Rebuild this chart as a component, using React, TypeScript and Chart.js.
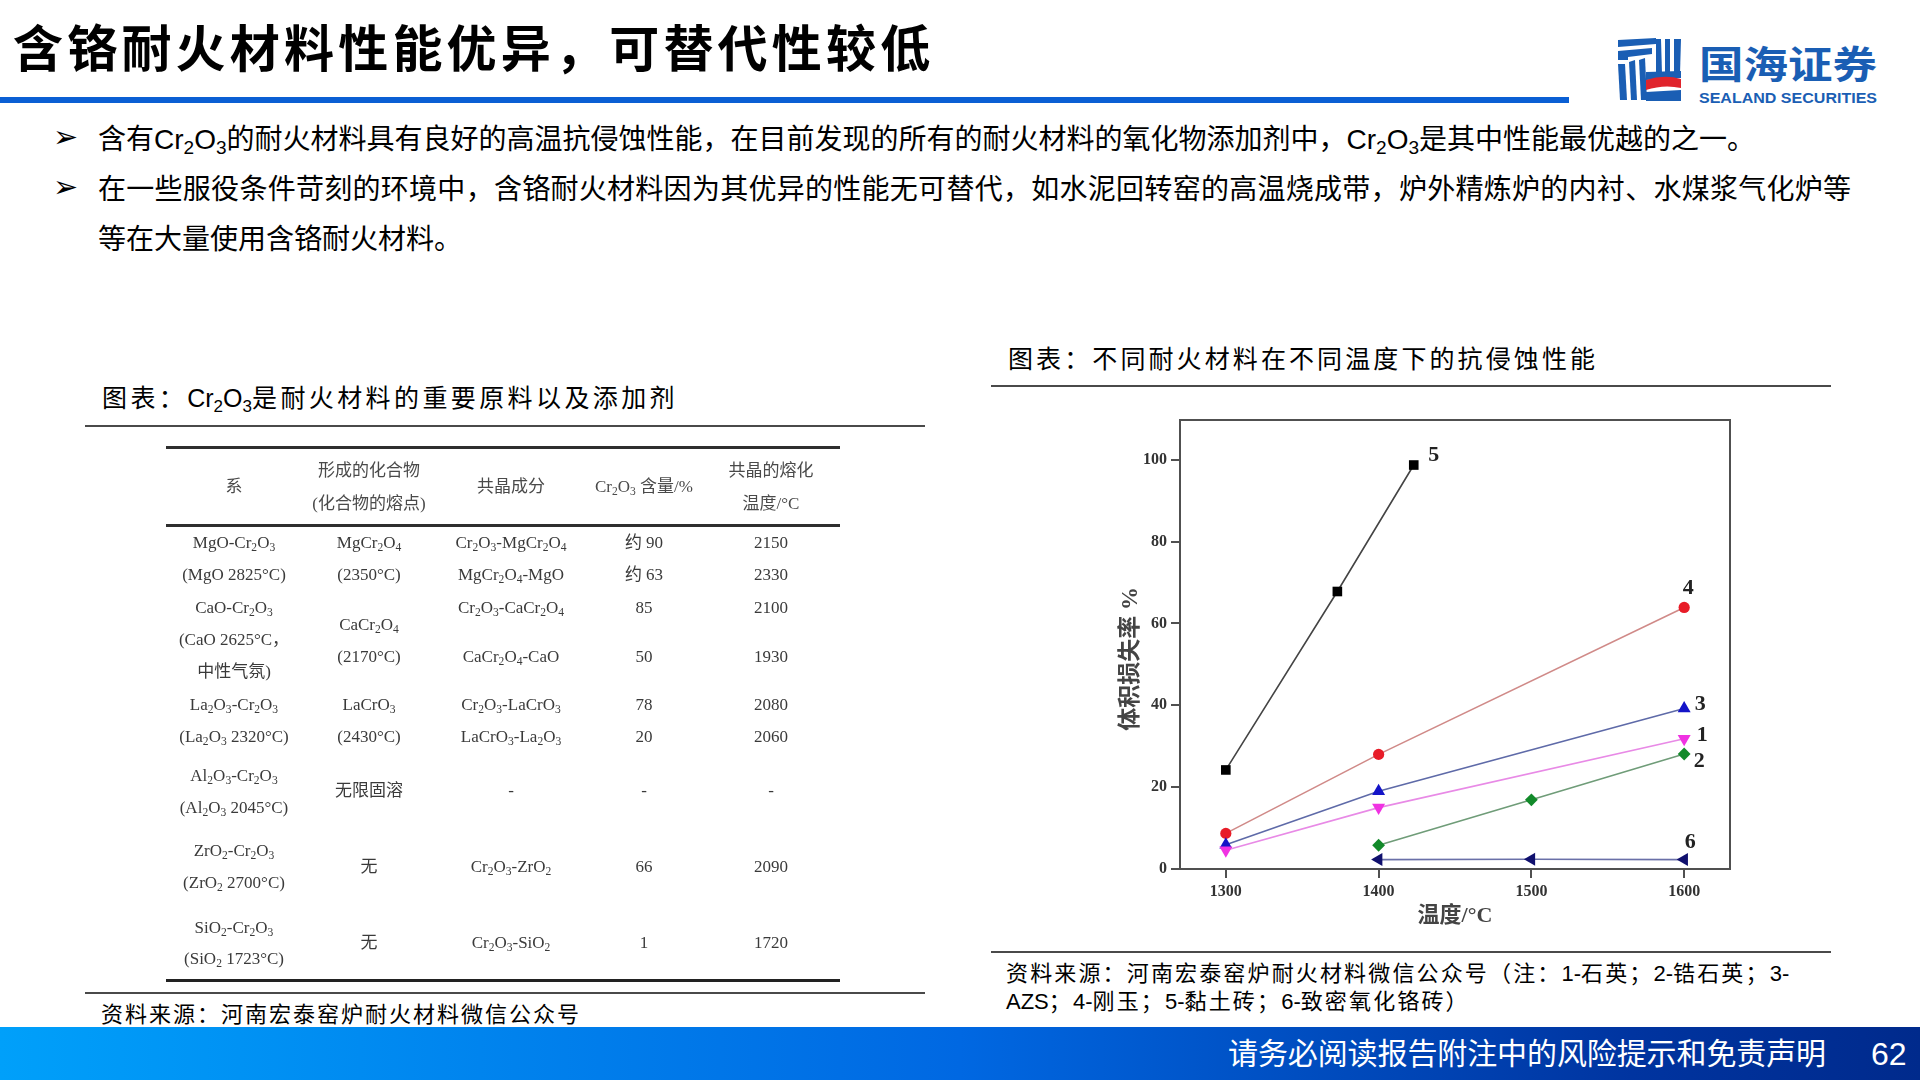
import { useEffect, useRef } from 'react';
import { Chart, registerables } from 'chart.js';

Chart.register(...registerables);

// chart data
const series5X = [1300, 1373, 1423];
const series5Y = [24.2, 67.8, 98.7];
const series4X = [1300, 1400, 1600];
const series4Y = [8.7, 28, 63.9];
const series3X = [1300, 1400, 1600];
const series3Y = [5.9, 19, 39.2];
const series1X = [1300, 1400, 1600];
const series1Y = [4.6, 15, 31.8];
const series2X = [1400, 1500, 1600];
const series2Y = [5.8, 16.9, 28.1];
const series6X = [1400, 1500, 1600];
const series6Y = [2.3, 2.4, 2.3];

const xTicks = [1300, 1400, 1500, 1600];
const yTicks = [0, 20, 40, 60, 80, 100];
const xTitle = '温度/°C';
const yTitle = '体积损失率 %';

// table text, _n is a subscript
const tableHeader = [
  ['系'],
  ['形成的化合物', '(化合物的熔点)'],
  ['共晶成分'],
  ['Cr_2O_3 含量/%'],
  ['共晶的熔化', '温度/°C'],
];
const systemCol = [
  'MgO-Cr_2O_3', '(MgO 2825°C)', 'CaO-Cr_2O_3', '(CaO 2625°C，', '中性气氛)',
  'La_2O_3-Cr_2O_3', '(La_2O_3 2320°C)', 'Al_2O_3-Cr_2O_3', '(Al_2O_3 2045°C)',
  'ZrO_2-Cr_2O_3', '(ZrO_2 2700°C)', 'SiO_2-Cr_2O_3', '(SiO_2 1723°C)',
];
const compoundCol = [
  'MgCr_2O_4', '(2350°C)', 'CaCr_2O_4', '(2170°C)', 'LaCrO_3', '(2430°C)', '无限固溶', '无', '无',
];
const eutecticCol = [
  'Cr_2O_3-MgCr_2O_4', 'MgCr_2O_4-MgO', 'Cr_2O_3-CaCr_2O_4', 'CaCr_2O_4-CaO',
  'Cr_2O_3-LaCrO_3', 'LaCrO_3-La_2O_3', '-', 'Cr_2O_3-ZrO_2', 'Cr_2O_3-SiO_2',
];
const contentCol = ['约 90', '约 63', '85', '50', '78', '20', '-', '66', '1'];
const meltCol = ['2150', '2330', '2100', '1930', '2080', '2060', '-', '2090', '1720'];

// line centres of the table columns on the page
const systemY = [542, 574, 607, 639, 671, 704, 736, 775, 807, 850, 882, 927, 958];
const compoundY = [542, 574, 624, 656, 704, 736, 790, 866, 942];
const otherY = [542, 574, 607, 656, 704, 736, 790, 866, 942];
const colX = [234, 369, 511, 644, 771];

const SANS = '"Liberation Sans","Noto Sans CJK SC",sans-serif';
const SERIF = '"Liberation Serif","Noto Sans CJK SC",serif';

function chem(text: string) {
  return text.split(/_(\d)/).map((part, i) =>
    i % 2 === 1 ? (
      <span key={i} style={{ fontSize: '68%', position: 'relative', top: '0.28em' }}>
        {part}
      </span>
    ) : (
      <span key={i}>{part}</span>
    ),
  );
}

// the letter spacing of the headings only applies to the Chinese, not to latin runs
function tight(text: string) {
  return text.split(/([A-Za-z0-9_-]+)/).map((part, i) =>
    i % 2 === 1 ? (
      <span key={i} style={{ letterSpacing: 0 }}>
        {chem(part)}
      </span>
    ) : (
      <span key={i}>{part}</span>
    ),
  );
}

function Txt(props: {
  x: number;
  y: number;
  size: number;
  children: any;
  center?: boolean;
  color?: string;
  weight?: number;
  spacing?: number;
  font?: string;
}) {
  const { x, y, size, children, center, color = '#000', weight = 400, spacing = 0, font = SANS } = props;
  return (
    <div
      style={{
        position: 'absolute',
        left: x,
        top: y,
        transform: center ? 'translate(-50%,-50%)' : 'translateY(-50%)',
        fontSize: size,
        fontFamily: font,
        fontWeight: weight,
        color,
        letterSpacing: spacing,
        lineHeight: 1,
        whiteSpace: 'nowrap',
      }}
    >
      {children}
    </div>
  );
}

function Rule(props: { x: number; y: number; w: number; h?: number; color?: string }) {
  const { x, y, w, h = 2, color = '#4a4a4a' } = props;
  return <div style={{ position: 'absolute', left: x, top: y, width: w, height: h, background: color }} />;
}

function Logo() {
  const blue = '#1a5eb4';
  return (
    <svg style={{ position: 'absolute', left: 1610, top: 30 }} width={280} height={85}>
      <g fill={blue}>
        <path d="M8 10 L46 8 L46 14 L8 17 Z" />
        <path d="M8 21 L42 18 L42 24 L18 27 L18 30 L8 30 Z" />
        <path d="M8 34 L15 34 L17 70 L10 70 Z" />
        <path d="M19 32 L25 30 L27 70 L21 70 Z" />
        <path d="M29 30 L35 28 L37 70 L31 70 Z" />
        <path d="M46 9 L51 9 L52 44 L46 44 Z" />
        <path d="M55 9 L60 9 L60 44 L55 44 Z" />
        <path d="M64 9 L71 9 L70 44 L64 44 Z" />
        <path d="M36 42 L71 41 L71 48 L36 50 Z" />
        <path d="M36 62 L71 60 L71 71 L36 71 Z" />
      </g>
      <path d="M36 50 Q54 44 71 49 L71 58 Q54 54 36 60 Z" fill="#e0242c" />
      <text x={89} y={48} fontSize={38} fontWeight={700} fill={blue} textLength={178} lengthAdjust="spacingAndGlyphs" fontFamily='"Noto Sans CJK SC"'>
        国海证券
      </text>
      <text x={89} y={73} fontSize={15} fontWeight={700} fill={blue} textLength={178} lengthAdjust="spacingAndGlyphs" fontFamily='"Liberation Sans"'>
        SEALAND SECURITIES
      </text>
    </svg>
  );
}

function LossChart() {
  const canvasRef = useRef<HTMLCanvasElement>(null);

  useEffect(() => {
    if (!canvasRef.current) return;
    const line = (
      name: string,
      xs: number[],
      ys: number[],
      lineColor: string,
      color: string,
      pointStyle: string,
      radius: number,
      rotation = 0,
    ) => ({
      label: name,
      data: xs.map((x, i) => ({ x, y: ys[i] })),
      borderColor: lineColor,
      borderWidth: 1.6,
      backgroundColor: color,
      pointBackgroundColor: color,
      pointBorderColor: color,
      pointBorderWidth: 0,
      pointStyle,
      pointRadius: radius,
      pointRotation: rotation,
      tension: 0,
    });

    // number next to the last point of every line, offset in pixels
    const endLabels: Record<string, [number, number]> = {
      '5': [20, -10],
      '4': [4, -19],
      '3': [16, -4],
      '1': [18, -4],
      '2': [15, 7],
      '6': [6, -17],
    };
    const framePlugin = {
      id: 'frame',
      afterDraw(chart: any) {
        const { ctx, chartArea: a } = chart;
        ctx.save();
        ctx.strokeStyle = '#505050';
        ctx.lineWidth = 2;
        ctx.strokeRect(a.left, a.top, a.right - a.left, a.bottom - a.top);
        ctx.font = `bold 22px ${SERIF}`;
        ctx.fillStyle = '#222';
        ctx.textAlign = 'center';
        ctx.textBaseline = 'middle';
        chart.data.datasets.forEach((ds: any, i: number) => {
          const pts = chart.getDatasetMeta(i).data;
          const last = pts[pts.length - 1];
          const off = endLabels[ds.label];
          ctx.fillText(ds.label, last.x + off[0], last.y + off[1]);
        });
        ctx.restore();
      },
    };

    const tickFont = { family: SERIF, size: 16, weight: 'bold' as const };
    const chart = new Chart(canvasRef.current, {
      type: 'line',
      data: {
        datasets: [
          line('6', series6X, series6Y, '#6a70a8', '#10106e', 'triangle', 7.5, -90),
          line('2', series2X, series2Y, '#6f9c78', '#128a2a', 'rectRot', 6.4),
          line('1', series1X, series1Y, '#e88ae6', '#f032e2', 'triangle', 7.5, 180),
          line('3', series3X, series3Y, '#5e6aa8', '#1414c8', 'triangle', 7.5),
          line('4', series4X, series4Y, '#d08a88', '#e81c28', 'circle', 5.6),
          line('5', series5X, series5Y, '#444444', '#000000', 'rect', 6.8),
        ] as any,
      },
      options: {
        animation: false,
        responsive: false,
        layout: { padding: { top: 19, right: 30, left: 0, bottom: 0 } },
        plugins: { legend: { display: false }, tooltip: { enabled: false } },
        scales: {
          x: {
            type: 'linear',
            min: 1270,
            max: 1630,
            afterBuildTicks: (s: any) => {
              s.ticks = xTicks.map((value) => ({ value }));
            },
            afterFit: (s: any) => {
              s.height = 72;
            },
            grid: { drawOnChartArea: false, color: '#505050', tickLength: 9, lineWidth: 2 },
            border: { color: '#505050', width: 2 },
            ticks: { font: tickFont, color: '#333', padding: 4, maxRotation: 0, callback: (v: any) => String(v) },
            title: {
              display: true,
              text: xTitle,
              color: '#444',
              font: { family: SERIF, size: 22, weight: 'bold' },
              padding: { top: 0, bottom: 11 },
            },
          },
          y: {
            min: 0,
            max: 109.7,
            afterBuildTicks: (s: any) => {
              s.ticks = yTicks.map((value) => ({ value }));
            },
            afterFit: (s: any) => {
              s.width = 80;
            },
            grid: { drawOnChartArea: false, color: '#505050', tickLength: 9, lineWidth: 2 },
            border: { color: '#505050', width: 2 },
            ticks: { font: tickFont, color: '#333', padding: 4 },
            title: {
              display: true,
              // the trailing spaces push the title below the middle of the axis
              text: yTitle + '\u00A0'.repeat(5),
              color: '#444',
              font: { family: SERIF, size: 23, weight: 'bold' },
              padding: { top: 17, bottom: 0 },
            },
          },
        },
      } as any,
      plugins: [framePlugin],
    });

    return () => chart.destroy();
  }, []);

  return (
    <canvas
      ref={canvasRef}
      width={660}
      height={540}
      style={{ position: 'absolute', left: 1100, top: 401, width: 660, height: 540, filter: 'blur(0.4px)' }}
    />
  );
}

function PropertyTable() {
  const cell = (text: string, x: number, y: number, key: string, color = '#3a3a3a') => (
    <Txt key={key} x={x} y={y} size={17} center color={color} font={SERIF}>
      {chem(text)}
    </Txt>
  );
  const columns: [string[], number[]][] = [
    [systemCol, systemY],
    [compoundCol, compoundY],
    [eutecticCol, otherY],
    [contentCol, otherY],
    [meltCol, otherY],
  ];
  return (
    <div style={{ position: 'absolute', left: 0, top: 0, width: 1920, height: 1080, filter: 'blur(0.35px)' }}>
      <Rule x={166} y={446} w={674} h={3} color="#2e2e2e" />
      <Rule x={166} y={524} w={674} h={3} color="#2e2e2e" />
      <Rule x={166} y={979} w={674} h={3} color="#222" />
      {tableHeader.map((lines, c) =>
        lines.map((t, i) =>
          cell(t, colX[c], lines.length === 1 ? 486 : i === 0 ? 470 : 503, `h${c}-${i}`, '#4a4a4a'),
        ),
      )}
      {columns.map(([texts, ys], c) => texts.map((t, i) => cell(t, colX[c], ys[i], `c${c}-${i}`)))}
    </div>
  );
}

export default function App() {
  const bullet = { font: '"DejaVu Sans"', size: 30 };
  return (
    <div
      style={{
        position: 'absolute',
        left: 0,
        top: 0,
        width: 1920,
        height: 1080,
        background: '#fff',
        overflow: 'hidden',
      }}
    >
      <Txt x={13} y={50} size={50} weight={700} spacing={4.2} font={'"Liberation Sans","Noto Sans CJK SC"'}>
        含铬耐火材料性能优异，可替代性较低
      </Txt>
      <Rule x={0} y={97} w={1569} h={6} color="#0a5fd4" />
      <Logo />

      <Txt x={53} y={137} {...bullet}>➢</Txt>
      <Txt x={98} y={140} size={28}>
        {chem('含有Cr_2O_3的耐火材料具有良好的高温抗侵蚀性能，在目前发现的所有的耐火材料的氧化物添加剂中，Cr_2O_3是其中性能最优越的之一。')}
      </Txt>
      <Txt x={53} y={187} {...bullet}>➢</Txt>
      <Txt x={98} y={190} size={28} spacing={0.28}>
        在一些服役条件苛刻的环境中，含铬耐火材料因为其优异的性能无可替代，如水泥回转窑的高温烧成带，炉外精炼炉的内衬、水煤浆气化炉等
      </Txt>
      <Txt x={98} y={240} size={28}>
        等在大量使用含铬耐火材料。
      </Txt>

      <Txt x={102} y={398} size={25} spacing={3.4}>
        {tight('图表：Cr_2O_3是耐火材料的重要原料以及添加剂')}
      </Txt>
      <Rule x={85} y={425} w={840} />
      <PropertyTable />
      <Rule x={85} y={992} w={840} />
      <Txt x={101} y={1015} size={22} spacing={2}>
        资料来源：河南宏泰窑炉耐火材料微信公众号
      </Txt>

      <Txt x={1008} y={359} size={25} spacing={3.1}>
        图表：不同耐火材料在不同温度下的抗侵蚀性能
      </Txt>
      <Rule x={991} y={385} w={840} />
      <LossChart />
      <Rule x={991} y={951} w={840} />
      <Txt x={1006} y={974} size={22} spacing={2.15}>
        {tight('资料来源：河南宏泰窑炉耐火材料微信公众号（注：1-石英；2-锆石英；3-')}
      </Txt>
      <Txt x={1006} y={1002} size={22} spacing={2.15}>
        {tight('AZS；4-刚玉；5-黏土砖；6-致密氧化铬砖）')}
      </Txt>

      <div
        style={{
          position: 'absolute',
          left: 0,
          top: 1027,
          width: 1920,
          height: 53,
          background: 'linear-gradient(90deg,#00a0fa 0%,#0068e2 50%,#0034a0 85%,#002a8c 100%)',
        }}
      />
      <Txt x={1228} y={1054} size={30} color="#fff" spacing={-0.1}>
        请务必阅读报告附注中的风险提示和免责声明
      </Txt>
      <Txt x={1871} y={1054} size={32} color="#fff">
        62
      </Txt>
    </div>
  );
}
